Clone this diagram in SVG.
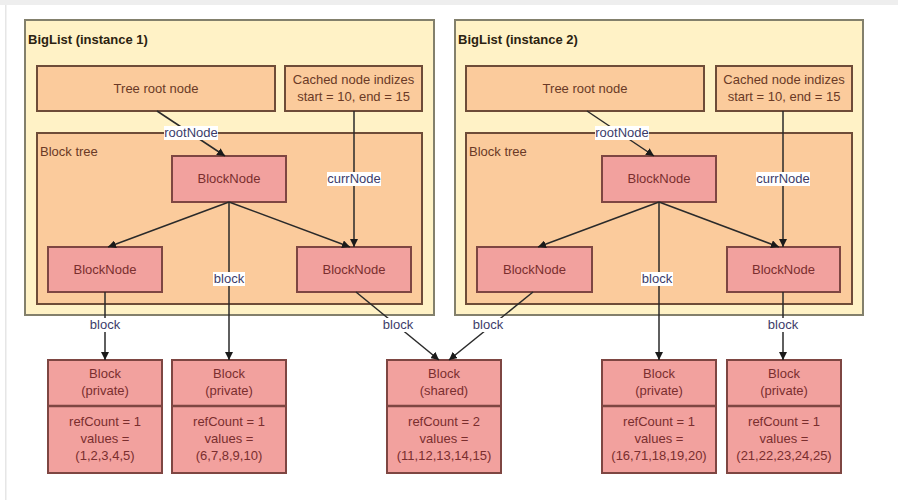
<svg xmlns="http://www.w3.org/2000/svg" width="898" height="500" viewBox="0 0 898 500">
  <defs>
    <marker id="arrow" viewBox="0 0 10 10" refX="10" refY="5" markerWidth="8" markerHeight="8" markerUnits="userSpaceOnUse" orient="auto">
      <path d="M0,0 L10,5 L0,10 z" fill="#1a1a1a"/>
    </marker>
    <style>
      text { font-family: "Liberation Sans", Arial, sans-serif; font-size: 13px; }
      .frame { fill: #fff2c6; stroke: #83806c; stroke-width: 2; }
      .peach { fill: #fbcb9c; stroke: #6e4c38; stroke-width: 2; }
      .pink { fill: #f2a19e; stroke: #7e4642; stroke-width: 2; }
      .divider { stroke: #7e4642; stroke-width: 2.5; }
      .title { font-weight: bold; fill: #2b2210; }
      .lbl { fill: #6a3a26; }
      .node { fill: #7a2e2e; text-anchor: middle; }
      .peachtxt { fill: #6a3a26; text-anchor: middle; }
      .edge { stroke: #2a2a2a; stroke-width: 1.5; fill: none; marker-end: url(#arrow); }
      .elbl { fill: #3c3c6a; text-anchor: middle; }
      .elbg { fill: #ffffff; }
    </style>
  </defs>

  <!-- page background -->
  <rect x="0" y="0" width="898" height="500" fill="#ffffff"/>
  <rect x="0" y="0" width="898" height="5" fill="#eeeeee"/>
  <rect x="5" y="5" width="1.5" height="495" fill="#e6e6e6"/>

  <!-- BigList instance 1 -->
  <g id="biglist1">
    <rect class="frame" x="25" y="20" width="409" height="295"/>
    <text class="title" x="28" y="44">BigList (instance 1)</text>
  </g>
  <g id="rootnode1">
    <rect class="peach" x="37" y="66" width="238" height="45"/>
    <text class="peachtxt" x="156" y="93">Tree root node</text>
  </g>
  <g id="cached1">
    <rect class="peach" x="285" y="66" width="137" height="45"/>
    <text class="peachtxt" x="353.5" y="84">Cached node indizes</text>
    <text class="peachtxt" x="353.5" y="101">start = 10, end = 15</text>
  </g>
  <g id="blocktree1">
    <rect class="peach" x="37" y="133" width="385" height="171"/>
    <text class="lbl" x="40" y="156">Block tree</text>
  </g>
  <g id="bn1-top">
    <rect class="pink" x="172" y="156" width="114" height="46"/>
    <text class="node" x="229" y="183">BlockNode</text>
  </g>
  <g id="bn1-left">
    <rect class="pink" x="48" y="247" width="114" height="45"/>
    <text class="node" x="105" y="274">BlockNode</text>
  </g>
  <g id="bn1-right">
    <rect class="pink" x="297" y="247" width="114" height="45"/>
    <text class="node" x="354" y="274">BlockNode</text>
  </g>

  <!-- BigList instance 2 -->
  <g id="biglist2">
    <rect class="frame" x="455" y="20" width="408" height="295"/>
    <text class="title" x="458" y="44">BigList (instance 2)</text>
  </g>
  <g id="rootnode2">
    <rect class="peach" x="466" y="66" width="238" height="45"/>
    <text class="peachtxt" x="585" y="93">Tree root node</text>
  </g>
  <g id="cached2">
    <rect class="peach" x="716" y="66" width="136" height="45"/>
    <text class="peachtxt" x="784" y="84">Cached node indizes</text>
    <text class="peachtxt" x="784" y="101">start = 10, end = 15</text>
  </g>
  <g id="blocktree2">
    <rect class="peach" x="466" y="133" width="386" height="171"/>
    <text class="lbl" x="469" y="156">Block tree</text>
  </g>
  <g id="bn2-top">
    <rect class="pink" x="602" y="156" width="114" height="46"/>
    <text class="node" x="659" y="183">BlockNode</text>
  </g>
  <g id="bn2-left">
    <rect class="pink" x="477" y="247" width="115" height="45"/>
    <text class="node" x="534.5" y="274">BlockNode</text>
  </g>
  <g id="bn2-right">
    <rect class="pink" x="727" y="247" width="113" height="45"/>
    <text class="node" x="783.5" y="274">BlockNode</text>
  </g>

  <!-- Blocks -->
  <g id="block1">
    <rect class="pink" x="48" y="360" width="114" height="113"/>
    <line class="divider" x1="48" y1="406" x2="162" y2="406"/>
    <text class="node" x="105" y="378">Block</text>
    <text class="node" x="105" y="395">(private)</text>
    <text class="node" x="105" y="426">refCount = 1</text>
    <text class="node" x="105" y="443">values =</text>
    <text class="node" x="105" y="460">(1,2,3,4,5)</text>
  </g>
  <g id="block2">
    <rect class="pink" x="172" y="360" width="114" height="113"/>
    <line class="divider" x1="172" y1="406" x2="286" y2="406"/>
    <text class="node" x="229" y="378">Block</text>
    <text class="node" x="229" y="395">(private)</text>
    <text class="node" x="229" y="426">refCount = 1</text>
    <text class="node" x="229" y="443">values =</text>
    <text class="node" x="229" y="460">(6,7,8,9,10)</text>
  </g>
  <g id="block-shared">
    <rect class="pink" x="387" y="360" width="114" height="113"/>
    <line class="divider" x1="387" y1="406" x2="501" y2="406"/>
    <text class="node" x="444" y="378">Block</text>
    <text class="node" x="444" y="395">(shared)</text>
    <text class="node" x="444" y="426">refCount = 2</text>
    <text class="node" x="444" y="443">values =</text>
    <text class="node" x="444" y="460">(11,12,13,14,15)</text>
  </g>
  <g id="block3">
    <rect class="pink" x="602" y="360" width="114" height="113"/>
    <line class="divider" x1="602" y1="406" x2="716" y2="406"/>
    <text class="node" x="659" y="378">Block</text>
    <text class="node" x="659" y="395">(private)</text>
    <text class="node" x="659" y="426">refCount = 1</text>
    <text class="node" x="659" y="443">values =</text>
    <text class="node" x="659" y="460">(16,71,18,19,20)</text>
  </g>
  <g id="block4">
    <rect class="pink" x="727" y="360" width="114" height="113"/>
    <line class="divider" x1="727" y1="406" x2="841" y2="406"/>
    <text class="node" x="784" y="378">Block</text>
    <text class="node" x="784" y="395">(private)</text>
    <text class="node" x="784" y="426">refCount = 1</text>
    <text class="node" x="784" y="443">values =</text>
    <text class="node" x="784" y="460">(21,22,23,24,25)</text>
  </g>

  <!-- connectors -->
  <g id="edges">
    <!-- instance 1 -->
    <line class="edge" x1="157" y1="111" x2="225" y2="156"/>
    <line class="edge" x1="354" y1="111" x2="354" y2="247"/>
    <line class="edge" x1="229" y1="202" x2="108" y2="247"/>
    <line class="edge" x1="229" y1="202" x2="350" y2="247"/>
    <line class="edge" x1="229" y1="202" x2="229" y2="360"/>
    <line class="edge" x1="105" y1="292" x2="105" y2="360"/>
    <line class="edge" x1="356" y1="292" x2="439" y2="360"/>
    <!-- instance 2 -->
    <line class="edge" x1="587" y1="111" x2="654" y2="156"/>
    <line class="edge" x1="783" y1="111" x2="783" y2="247"/>
    <line class="edge" x1="659" y1="202" x2="538" y2="247"/>
    <line class="edge" x1="659" y1="202" x2="779" y2="247"/>
    <line class="edge" x1="659" y1="202" x2="659" y2="360"/>
    <line class="edge" x1="533" y1="292" x2="449" y2="360"/>
    <line class="edge" x1="783" y1="292" x2="783" y2="360"/>

    <!-- connector labels -->
    <rect class="elbg" x="164" y="126" width="54" height="14"/>
    <text class="elbl" x="191" y="137">rootNode</text>
    <rect class="elbg" x="327" y="172" width="54" height="14"/>
    <text class="elbl" x="354" y="183">currNode</text>
    <rect class="elbg" x="213" y="272" width="32" height="14"/>
    <text class="elbl" x="229" y="283">block</text>
    <rect class="elbg" x="89" y="318" width="32" height="14"/>
    <text class="elbl" x="105" y="329">block</text>
    <rect class="elbg" x="382" y="318" width="32" height="14"/>
    <text class="elbl" x="398" y="329">block</text>

    <rect class="elbg" x="595" y="126" width="54" height="14"/>
    <text class="elbl" x="622" y="137">rootNode</text>
    <rect class="elbg" x="756" y="172" width="54" height="14"/>
    <text class="elbl" x="783" y="183">currNode</text>
    <rect class="elbg" x="641" y="272" width="32" height="14"/>
    <text class="elbl" x="657" y="283">block</text>
    <rect class="elbg" x="472" y="318" width="32" height="14"/>
    <text class="elbl" x="488" y="329">block</text>
    <rect class="elbg" x="767" y="318" width="32" height="14"/>
    <text class="elbl" x="783" y="329">block</text>
  </g>
</svg>
